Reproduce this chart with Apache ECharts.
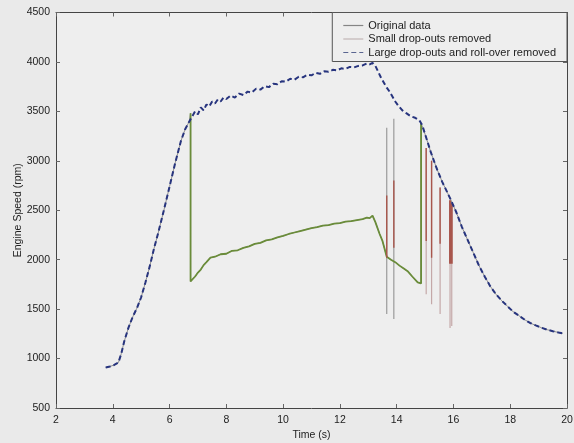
<!DOCTYPE html>
<html><head><meta charset="utf-8">
<script src="https://cdn.jsdelivr.net/npm/echarts@6/dist/echarts.min.js"></script>
<style>html,body{margin:0;padding:0;background:#eaeaea;}#c{width:574px;height:443px;}</style>
</head><body><div id="c"></div>
<script>
// Large drop-outs and roll-over removed (cleaned trace)
const upperT = [3.75,3.9,4.05,4.2,4.3,4.4,4.55,4.7,4.85,5.0,5.15,5.3,5.45,5.6,5.8,6.0,6.2,6.4,6.55,6.7,
  6.8,6.9,7.0,7.1,7.2,7.3,7.4,7.5,7.6,7.7,7.8,7.9,8.0,8.15,8.3,8.45,8.6,8.75,8.9,9.05,9.2,9.35,9.5,9.65,9.8,9.95,
  10.1,10.25,10.4,10.55,10.7,10.85,11.0,11.15,11.3,11.45,11.6,11.75,11.9,12.05,12.2,12.35,12.5,12.65,12.8,12.95,13.05,13.15,
  13.25,13.35,13.45,13.55,13.65,13.75,13.85,13.95,14.05,14.2,14.35,14.5,14.65,14.8,14.9,15.0,15.1,15.2,15.3,15.4,15.5,15.6,15.7,15.8,15.9,
  16.1,16.3,16.5,16.7,16.9,17.1,17.3,17.5,17.7,17.9,18.1,18.3,18.5,18.7,18.9,19.1,19.3,19.5,19.7,19.85];
const upperV = [910,920,935,960,1050,1170,1310,1420,1510,1620,1770,1930,2110,2270,2500,2740,2980,3200,3320,3400,
  3450,3500,3470,3540,3510,3570,3550,3600,3580,3620,3600,3640,3625,3660,3640,3680,3665,3700,3690,3730,3720,3755,3745,3780,3775,3805,
  3800,3830,3820,3850,3845,3870,3865,3890,3880,3905,3900,3920,3915,3935,3930,3950,3945,3960,3965,3985,3975,3990,
  3960,3900,3840,3790,3740,3700,3650,3600,3560,3510,3480,3450,3435,3410,3360,3270,3180,3090,3010,2930,2860,2790,2730,2670,2610,
  2480,2330,2200,2070,1940,1830,1730,1650,1585,1530,1475,1435,1395,1360,1335,1312,1292,1277,1264,1255];

// Roll-over segment (lower curve), including its two connecting jumps
const rollT = [6.74,6.74,6.8,6.9,7.0,7.1,7.2,7.3,7.44,7.6,7.8,8.0,8.2,8.4,8.6,8.8,9.0,9.2,9.4,9.6,9.8,10.0,10.2,10.4,10.6,10.8,11.0,11.2,11.4,
  11.6,11.8,12.0,12.2,12.4,12.6,12.8,12.95,13.05,13.15,13.25,13.4,13.5,13.65,13.8,13.95,14.1,14.25,14.4,14.55,14.74,14.86,14.86];
const rollV = [3480,1780,1800,1830,1870,1900,1945,1975,2020,2030,2055,2060,2090,2095,2120,2135,2160,2170,2195,2205,2225,2240,2260,2275,2290,2305,2320,2330,2345,
  2350,2365,2370,2385,2390,2400,2410,2425,2420,2445,2380,2260,2190,2030,2000,1975,1940,1910,1880,1830,1770,1760,3380];

// Drop-out spikes: full extent (original) and remaining part (small drop-outs removed)
const spikeT      = [13.65,13.9,15.04,15.23,15.53,15.88,15.94];
const spikeTop    = [3335,3425,3130,3000,2730,2600,2570];
const spikeBottom = [1450,1400,1650,1550,1450,1310,1330];
const redTop      = [2650,2800,3130,3000,2730,2600,2570];
const redBottom   = [2020,2120,2190,2020,2160,1960,1960];

const names = ['Original data','Small drop-outs removed','Large drop-outs and roll-over removed'];
const xTicks = {min:2,max:20,interval:2};
const yTicks = {min:500,max:4500,interval:500};

// original path: rise, roll-over segment, descent
const orig = [];
upperT.forEach((t,i)=>{ if(t<6.74) orig.push([t,upperV[i]]); });
rollT.forEach((t,i)=>orig.push([t,rollV[i]]));
upperT.forEach((t,i)=>{ if(t>14.86) orig.push([t,upperV[i]]); });

const series = [];
series.push({name:names[0],type:'line',symbol:'none',data:orig,lineStyle:{color:'#8c8c8c',width:1},z:1});
spikeT.forEach((t,i)=>series.push({name:names[0],type:'line',symbol:'none',
  data:[[t,spikeTop[i]],[t,spikeBottom[i]]],lineStyle:{color:i>=2?'#c4a8a8':'#9a9a9a',width:1.2},z:2}));
series.push({name:names[1],type:'line',symbol:'none',data:rollT.map((t,i)=>[t,rollV[i]]),
  lineStyle:{color:'#6a8c3a',width:1.8},z:3});
spikeT.forEach((t,i)=>series.push({name:names[1],type:'line',symbol:'none',
  data:[[t,redTop[i]],[t,redBottom[i]]],lineStyle:{color:'#a8564c',width:i>=5?2:1.4},z:4}));
series.push({name:names[2],type:'line',symbol:'none',data:upperT.map((t,i)=>[t,upperV[i]]),
  lineStyle:{color:'#27347e',width:2,type:[5,3]},z:5});

const solidIcon = 'path://M0,0H20V1.2H0Z';
const dashIcon = 'path://M0,0H5V1.2H0Z M8,0H13V1.2H8Z M16,0H20V1.2H16Z';
const axisCommon = {
  axisLine:{show:true,onZero:false,lineStyle:{color:'#444',width:1}},
  axisTick:{show:true,inside:true,length:4,lineStyle:{color:'#666'}},
  splitLine:{show:false}
};
const font = 'Liberation Sans, Arial, sans-serif';
const chart = echarts.init(document.getElementById('c'),null,{renderer:'canvas'});
chart.setOption({
  animation:false,
  backgroundColor:'#eaeaea',
  textStyle:{fontFamily:font},
  grid:{left:56,right:7,top:12.5,bottom:35,show:true,backgroundColor:'#eeeeee',borderWidth:0,
    containLabel:false,outerBoundsMode:'none'},
  legend:{
    orient:'vertical',right:7,top:12.5,
    data:[
      {name:names[0],icon:solidIcon,itemStyle:{color:'#858585',borderWidth:0}},
      {name:names[1],icon:solidIcon,itemStyle:{color:'#c2b6b6',borderWidth:0}},
      {name:names[2],icon:dashIcon,itemStyle:{color:'#5a6590',borderWidth:0}}
    ],
    itemWidth:20,itemHeight:1.2,itemGap:1.5,
    padding:[7,11,3,11],
    backgroundColor:'#eeeeee',borderColor:'#555',borderWidth:1,
    textStyle:{fontSize:11,color:'#222',fontFamily:font,lineHeight:12},
    selectedMode:false
  },
  xAxis:[
    Object.assign({type:'value',position:'bottom',min:xTicks.min,max:xTicks.max,interval:xTicks.interval,
      axisLabel:{fontSize:10.5,color:'#222',margin:7,fontFamily:font},
      name:'Time (s)',nameLocation:'middle',nameGap:22,nameMoveOverlap:false,
      nameTextStyle:{fontSize:10.5,color:'#222',fontFamily:font}},axisCommon),
    Object.assign({type:'value',position:'top',min:xTicks.min,max:xTicks.max,interval:xTicks.interval,
      axisLabel:{show:false}},axisCommon)
  ],
  yAxis:[
    Object.assign({type:'value',position:'left',min:yTicks.min,max:yTicks.max,interval:yTicks.interval,
      axisLabel:{fontSize:10.5,color:'#222',margin:6,fontFamily:font,formatter:v=>String(v)},
      name:'Engine Speed (rpm)',nameLocation:'middle',nameGap:32,nameMoveOverlap:false,
      nameTextStyle:{fontSize:10.5,color:'#222',fontFamily:font}},axisCommon),
    Object.assign({type:'value',position:'right',min:yTicks.min,max:yTicks.max,interval:yTicks.interval,
      axisLabel:{show:false}},axisCommon)
  ],
  series:series
});
</script></body></html>
